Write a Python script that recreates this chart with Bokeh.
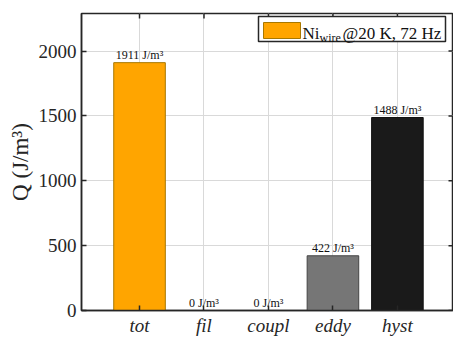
import math
from bokeh.plotting import figure
from bokeh.models import (ColumnDataSource, Range1d, FixedTicker,
                          BoxAnnotation, Label)
from bokeh.core.properties import value
from bokeh.embed import file_html
from bokeh.resources import INLINE

# ---- data ----
categories = ["tot", "fil", "coupl", "eddy", "hyst"]
q_values = [1911, 0, 0, 422, 1488]
bar_colors = ["#FFA500", "#FFA500", "#FFA500", "#767676", "#1A1A1A"]
edge_colors = ["#A87800", "#A87800", "#A87800", "#454545", "#111111"]
y_ticks = [0, 500, 1000, 1500, 2000]
unit = "J/m\u00b3"
legend_main = "Ni"
legend_sub = "wire"
legend_rest = "@20 K, 72 Hz"

FONT = "Liberation Serif"
QFONT = "'Liberation Serif', serif"
AX = "#262626"

xs = list(range(1, len(categories) + 1))
labels = [f"{v} {unit}" for v in q_values]
src = ColumnDataSource(dict(x=xs, top=q_values, fill=bar_colors,
                            edge=edge_colors, lab=labels))

x_rng = Range1d(0.1, 5.87)
y_rng = Range1d(0, 2290)
p = figure(width=453, height=338, output_backend="svg", toolbar_location=None,
           x_range=x_rng, y_range=y_rng,
           min_border_left=81, min_border_right=0, min_border_top=13,
           min_border_bottom=25, background_fill_color="white",
           border_fill_color="white")
p.outline_line_color = AX
p.outline_line_width = 1.5

p.xgrid.ticker = FixedTicker(ticks=xs)
p.ygrid.ticker = FixedTicker(ticks=y_ticks)
for g in (p.xgrid[0], p.ygrid[0]):
    g.grid_line_color = "#d9d9d9"
    g.grid_line_width = 1

p.vbar(x="x", top="top", width=0.8, fill_color="fill", line_color="edge",
       line_width=1, source=src)
p.text(x="x", y="top", text="lab", source=src, text_align="center",
       text_baseline="bottom", y_offset=-1, text_font=value(QFONT),
       text_font_size="12px", text_color="#111111")

# inward ticks on the top and right edges of the box
p.ray(x=xs, y=[y_rng.end] * len(xs), length=5, length_units="screen",
      angle=-math.pi / 2, line_color=AX, line_width=1.5)
p.ray(x=[x_rng.end] * len(y_ticks), y=y_ticks, length=5, length_units="screen",
      angle=math.pi, line_color=AX, line_width=1.5)

# axes
xa = p.xaxis[0]
xa.ticker = FixedTicker(ticks=xs)
xa.major_label_overrides = {i: c for i, c in zip(xs, categories)}
ya = p.yaxis[0]
ya.ticker = FixedTicker(ticks=y_ticks)
ya.axis_label = f"Q ({unit})"
for ax in (xa, ya):
    ax.axis_line_color = AX
    ax.axis_line_width = 1.5
    ax.major_tick_line_color = AX
    ax.major_tick_line_width = 1.5
    ax.major_tick_in = 5
    ax.major_tick_out = 0
    ax.minor_tick_line_color = None
    ax.major_label_text_font = QFONT
    ax.major_label_text_font_size = "19px"
    ax.major_label_text_color = AX
xa.major_label_text_font_style = "italic"
xa.major_label_standoff = 4
ya.major_label_standoff = 5
ya.axis_label_text_font = FONT
ya.axis_label_text_font_style = "normal"
ya.axis_label_text_font_size = "23px"
ya.axis_label_text_color = AX
ya.axis_label_standoff = 3

# legend (manual, to allow subscript)
p.add_layout(BoxAnnotation(left=177, right=364, top=294, bottom=269,
                           left_units="screen", right_units="screen",
                           top_units="screen", bottom_units="screen",
                           fill_color="white", fill_alpha=1,
                           line_color=AX, line_width=1.5, line_alpha=1))
p.add_layout(BoxAnnotation(left=182, right=219, top=288, bottom=272,
                           left_units="screen", right_units="screen",
                           top_units="screen", bottom_units="screen",
                           fill_color=bar_colors[0], fill_alpha=1,
                           line_color=edge_colors[0], line_width=1, line_alpha=1))
p.add_layout(Label(x=221, y=277, x_units="screen", y_units="screen",
                   text=legend_main, text_font=FONT, text_font_size="17px",
                   text_color="#111111", text_baseline="alphabetic"))
p.add_layout(Label(x=238, y=273, x_units="screen", y_units="screen",
                   text=legend_sub, text_font=FONT, text_font_size="12px",
                   text_color="#111111", text_baseline="alphabetic"))
p.add_layout(Label(x=261, y=277, x_units="screen", y_units="screen",
                   text=legend_rest, text_font=FONT, text_font_size="17px",
                   text_color="#111111", text_baseline="alphabetic"))

open("out.html", "w").write(file_html(p, INLINE))
